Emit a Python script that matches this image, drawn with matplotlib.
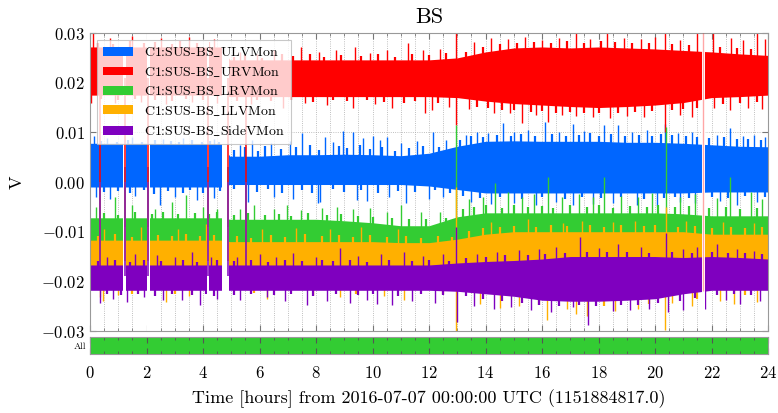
import matplotlib
matplotlib.use('Agg')
import matplotlib.pyplot as plt
from matplotlib.ticker import MultipleLocator, FuncFormatter

plt.rcParams['font.family'] = ['cmr10', 'DejaVu Serif']
plt.rcParams['mathtext.fontset'] = 'cm'
plt.rcParams['axes.formatter.use_mathtext'] = True

# time axis of the band envelopes (hours from start)
t_env = [0, 1, 2, 3, 4, 4.65, 4.95, 6, 7, 8, 9, 10, 11, 12, 13,
         14, 15, 16, 17, 18, 19, 20, 21, 22, 23, 24]

names = [r'C1:SUS-BS$\_$ULVMon', r'C1:SUS-BS$\_$URVMon', r'C1:SUS-BS$\_$LRVMon',
         r'C1:SUS-BS$\_$LLVMon', r'C1:SUS-BS$\_$SideVMon']
colors = ['#0066ff', '#ff0000', '#33cc33', '#ffb000', '#7f00bf']
centers = [0.003, 0.021, -0.009, -0.016, -0.019]

# dense band: upper / lower envelope of each channel
ulv_hi = [0.0078, 0.0078, 0.0078, 0.0077, 0.0077, 0.0077, 0.0052, 0.0052, 0.0055, 0.0055, 0.0056, 0.0055, 0.0053,
          0.0058, 0.0072, 0.0082, 0.0083, 0.0082, 0.0082, 0.0082, 0.0080, 0.0080, 0.0078, 0.0075, 0.0072, 0.0071]
ulv_lo = [-0.0010, -0.0010, -0.0010, -0.0010, -0.0010, -0.0010, -0.0005, -0.0005, -0.0005, -0.0005, -0.0005, -0.0005,
          -0.0005, -0.0008, -0.0015, -0.0022, -0.0022, -0.0022, -0.0022, -0.0022, -0.0022, -0.0022, -0.0022, -0.0020,
          -0.0020, -0.0020]
urv_hi = [0.0272, 0.0272, 0.0272, 0.0272, 0.0272, 0.0272, 0.0246, 0.0246, 0.0246, 0.0246, 0.0246, 0.0246, 0.0246,
          0.0246, 0.0250, 0.0262, 0.0270, 0.0272, 0.0270, 0.0272, 0.0270, 0.0268, 0.0265, 0.0262, 0.0258, 0.0255]
urv_lo = [0.0175, 0.0175, 0.0175, 0.0175, 0.0175, 0.0175, 0.0172, 0.0172, 0.0172, 0.0172, 0.0172, 0.0172, 0.0172,
          0.0172, 0.0170, 0.0163, 0.0158, 0.0155, 0.0152, 0.0150, 0.0152, 0.0155, 0.0160, 0.0170, 0.0172, 0.0175]
lrv_hi = [-0.0072, -0.0072, -0.0072, -0.0072, -0.0072, -0.0072, -0.0075, -0.0075, -0.0075, -0.0075, -0.0078, -0.0082,
          -0.0088, -0.0088, -0.0070, -0.0062, -0.0062, -0.0062, -0.0062, -0.0062, -0.0062, -0.0062, -0.0064, -0.0068,
          -0.0068, -0.0068]
lrv_lo = [-0.0130] * 26
llv_hi = [-0.0117, -0.0117, -0.0117, -0.0117, -0.0117, -0.0117, -0.0120, -0.0120, -0.0120, -0.0120, -0.0120, -0.0120,
          -0.0122, -0.0122, -0.0115, -0.0105, -0.0100, -0.0100, -0.0100, -0.0100, -0.0100, -0.0100, -0.0100, -0.0105,
          -0.0105, -0.0105]
llv_lo = [-0.0200] * 26
side_hi = [-0.0167, -0.0167, -0.0167, -0.0167, -0.0167, -0.0167, -0.0167, -0.0167, -0.0167, -0.0167, -0.0167, -0.0167,
           -0.0167, -0.0167, -0.0163, -0.0160, -0.0158, -0.0155, -0.0150, -0.0150, -0.0150, -0.0150, -0.0152, -0.0150,
           -0.0152, -0.0155]
side_lo = [-0.0218, -0.0218, -0.0218, -0.0218, -0.0218, -0.0218, -0.0218, -0.0218, -0.0218, -0.0218, -0.0218, -0.0218,
           -0.0218, -0.0218, -0.0220, -0.0225, -0.0230, -0.0238, -0.0240, -0.0240, -0.0238, -0.0235, -0.0225, -0.0218,
           -0.0218, -0.0218]

# large excursions beyond the dense band (hour, value)
ulv_spikes = [(0.15, 0.0092), (0.6, 0.0088), (1.5, 0.0090), (2.6, 0.0086), (3.3, 0.0089), (4.4, 0.0087),
              (5.3, 0.0075), (5.72, 0.0085), (6.4, 0.0078), (7.08, 0.0082), (7.49, 0.0098), (8.32, 0.0091),
              (8.6, 0.0080), (8.96, 0.0103), (9.3, 0.0101), (9.67, 0.0088), (10.0, 0.0093), (10.27, 0.0085),
              (10.5, 0.0090), (11.0, 0.0078), (11.56, 0.0083), (12.15, 0.0101), (12.6, 0.0085), (13.3, 0.0095),
              (13.69, 0.0101), (14.1, 0.0098), (14.63, 0.0118), (15.0, 0.0100), (15.5, 0.0105), (16.1, 0.0120),
              (16.6, 0.0100), (17.1, 0.0117), (17.5, 0.0102), (18.2, 0.0115), (18.7, 0.0114), (19.2, 0.0100),
              (19.7, 0.0104), (20.35, 0.0117), (20.8, 0.0098), (21.3, 0.0101), (22.2, 0.0095), (22.65, 0.0108),
              (23.1, 0.0093), (23.5, 0.0095), (23.9, 0.0090),
              (0.2, -0.0030), (0.7, -0.0035), (1.6, -0.0028), (2.48, -0.0046), (3.0, -0.0030), (3.78, -0.0036),
              (4.4, -0.0032), (5.6, -0.0040), (6.5, -0.0030), (7.2, -0.0035), (8.08, -0.0042), (8.14, -0.0040),
              (9.44, -0.0036), (9.8, -0.0038), (10.6, -0.0030), (11.2, -0.0042), (12.0, -0.0034), (12.5, -0.0030),
              (13.5, -0.0040), (14.2, -0.0045), (15.0, -0.0042), (15.8, -0.0046), (16.5, -0.0040), (17.1, -0.0046),
              (17.8, -0.0044), (18.5, -0.0042), (19.35, -0.0047), (20.06, -0.0048), (20.9, -0.0040), (21.4, -0.0043),
              (22.3, -0.0038), (22.9, -0.0046), (23.6, -0.0040)]
urv_spikes = [(0.1, 0.0300), (0.7, 0.0290), (1.5, 0.0295), (2.5, 0.0290), (3.5, 0.0292), (4.4, 0.0288),
              (5.3, 0.0262), (5.9, 0.0258), (6.5, 0.0265), (7.47, 0.0272), (8.1, 0.0262), (8.7, 0.0266),
              (9.38, 0.0272), (9.9, 0.0260), (10.5, 0.0266), (11.26, 0.0279), (11.8, 0.0265), (12.4, 0.0268),
              (12.95, 0.0300), (13.6, 0.0282), (14.2, 0.0290), (14.8, 0.0288), (15.4, 0.0292), (16.0, 0.0285),
              (16.6, 0.0290), (17.2, 0.0300), (17.7, 0.0288), (18.3, 0.0300), (18.9, 0.0290), (19.5, 0.0287),
              (20.0, 0.0292), (20.35, 0.0300), (20.9, 0.0286), (21.5, 0.0300), (22.06, 0.0300), (22.7, 0.0290),
              (23.1, 0.0285), (23.6, 0.0300), (23.9, 0.0288),
              (0.05, 0.0160), (0.9, 0.0160), (1.8, 0.0162), (2.7, 0.0158), (3.6, 0.0162), (4.5, 0.0160),
              (5.7, 0.0158), (6.84, 0.0149), (7.6, 0.0160), (8.4, 0.0155), (9.3, 0.0149), (10.1, 0.0158),
              (10.7, 0.0149), (11.86, 0.0139), (12.1, 0.0145), (12.7, 0.0152), (12.97, 0.0115), (13.4, 0.0148),
              (14.3, 0.0140), (14.87, 0.0139), (15.3, 0.0119), (15.8, 0.0135), (16.2, 0.0120), (16.7, 0.0135),
              (17.2, 0.0132), (17.8, 0.0130), (18.4, 0.0128), (19.0, 0.0133), (19.6, 0.0130), (20.35, 0.0100),
              (20.9, 0.0135), (21.3, 0.0130), (22.1, 0.0150), (22.65, 0.0145), (23.3, 0.0150), (23.8, 0.0148)]
lrv_spikes = [(0.2, -0.0050), (0.88, -0.0030), (1.47, -0.0046), (2.3, -0.0055), (2.9, -0.0040), (3.4, -0.0026),
              (4.0, -0.0050), (4.5, -0.0055), (5.3, -0.0055), (5.8, -0.0046), (6.5, -0.0055), (6.96, -0.0046),
              (7.47, -0.0057), (8.2, -0.0052), (8.73, -0.0050), (9.3, -0.0055), (9.9, -0.0052), (10.5, -0.0060),
              (11.0, -0.0046), (11.7, -0.0060), (12.4, -0.0060), (12.97, 0.0115), (13.4, -0.0035), (13.9, -0.0030),
              (14.34, -0.0002), (14.8, -0.0020), (15.3, -0.0030), (15.7, -0.0025), (16.2, 0.0010), (16.7, -0.0030),
              (17.3, -0.0025), (17.8, -0.0030), (18.2, 0.0010), (18.8, -0.0028), (19.4, -0.0030), (19.9, -0.0022),
              (20.38, 0.0110), (20.9, -0.0030), (21.4, -0.0025), (22.2, -0.0032), (22.65, 0.0010), (23.4, -0.0020),
              (23.8, -0.0035)]
llv_spikes = [(0.5, -0.0095), (1.8, -0.0090), (3.1, -0.0095), (4.1, -0.0085), (6.1, -0.0095), (7.3, -0.0092),
              (8.5, -0.0095), (9.6, -0.0090), (10.9, -0.0095), (12.97, -0.0010), (14.2, -0.0080), (15.5, -0.0075),
              (16.75, -0.0083), (17.4, -0.0078), (18.5, -0.0080), (19.3, -0.0078), (20.38, -0.0050), (21.1, -0.0078),
              (22.4, -0.0080), (23.5, -0.0082),
              (0.35, -0.0232), (0.45, -0.0240), (1.0, -0.0228), (2.7, -0.0241), (3.5, -0.0230), (6.25, -0.0235),
              (7.9, -0.0228), (8.85, -0.0232), (10.4, -0.0230), (11.1, -0.0238), (12.97, -0.0300), (13.8, -0.0245),
              (14.5, -0.0254), (15.2, -0.0250), (16.17, -0.0278), (16.9, -0.0255), (17.2, -0.0265), (17.6, -0.0270),
              (18.6, -0.0260), (19.4, -0.0255), (20.35, -0.0298), (20.6, -0.0244), (21.3, -0.0250), (22.3, -0.0240),
              (22.8, -0.0245), (23.6, -0.0242)]
side_spikes = [(0.6, -0.0150), (1.6, -0.0145), (2.36, -0.0147), (3.0, -0.0150), (3.6, -0.0140), (4.3, -0.0150),
               (5.2, -0.0150), (6.0, -0.0145), (6.6, -0.0150), (7.2, -0.0143), (8.0, -0.0150), (8.85, -0.0133),
               (9.5, -0.0148), (10.3, -0.0145), (11.1, -0.0140), (11.8, -0.0148), (12.5, -0.0145), (12.97, -0.0090),
               (13.7, -0.0145), (14.4, -0.0140), (15.2, -0.0137), (15.9, -0.0135), (16.5, -0.0130), (17.35, -0.0110),
               (18.0, -0.0132), (18.7, -0.0125), (19.5, -0.0130), (20.4, -0.0103), (21.0, -0.0135), (21.5, -0.0130),
               (22.2, -0.0125), (22.9, -0.0135), (23.5, -0.0138),
               (0.35, -0.0243), (0.8, -0.0235), (1.3, -0.0242), (1.9, -0.0232), (2.6, -0.0238), (3.24, -0.0238),
               (3.9, -0.0248), (4.5, -0.0235), (5.3, -0.0238), (6.25, -0.0232), (6.9, -0.0240), (7.67, -0.0248),
               (8.4, -0.0240), (9.2, -0.0244), (9.8, -0.0238), (10.15, -0.0245), (10.68, -0.0248), (11.4, -0.0240),
               (12.2, -0.0243), (12.98, -0.0281), (13.6, -0.0250), (14.3, -0.0255), (14.9, -0.0252), (15.6, -0.0258),
               (16.3, -0.0262), (17.1, -0.0251), (17.63, -0.0288), (18.5, -0.0260), (19.1, -0.0258), (19.8, -0.0255),
               (20.45, -0.0262), (21.0, -0.0258), (21.78, -0.0255), (22.5, -0.0238), (23.0, -0.0245), (23.7, -0.0240)]

# small excursions that roughen the band edges (hour, value)
ulv_fuzz = [(0.4, 0.0083), (0.95, 0.0081), (1.35, 0.0084), (1.85, 0.0080), (2.3, 0.0085), (2.85, 0.0082),
            (3.15, 0.0080), (3.6, 0.0084), (3.95, 0.0081), (4.25, 0.0083), (4.55, 0.0080), (5.1, 0.0065),
            (5.5, 0.0070), (5.95, 0.0062), (6.2, 0.0072), (6.75, 0.0066), (7.3, 0.0070), (7.8, 0.0074),
            (8.1, 0.0064), (8.8, 0.0072), (9.1, 0.0068), (9.55, 0.0075), (9.9, 0.0066), (10.35, 0.0070),
            (10.8, 0.0062), (11.3, 0.0068), (11.8, 0.0072), (12.35, 0.0070), (12.8, 0.0066), (13.1, 0.0085),
            (13.5, 0.0092), (13.9, 0.0090), (14.4, 0.0095), (14.9, 0.0092), (15.25, 0.0096), (15.75, 0.0093),
            (16.35, 0.0097), (16.85, 0.0092), (17.3, 0.0095), (17.7, 0.0098), (18.0, 0.0092), (18.45, 0.0096),
            (18.95, 0.0093), (19.45, 0.0095), (19.9, 0.0092), (20.2, 0.0097), (20.6, 0.0094), (21.1, 0.0092),
            (21.5, 0.0090), (21.9, 0.0088), (22.45, 0.0090), (22.9, 0.0087), (23.3, 0.0086), (23.75, 0.0085),
            (0.5, -0.0020), (1.0, -0.0018), (1.4, -0.0022), (1.9, -0.0016), (2.25, -0.0024), (2.75, -0.0019),
            (3.3, -0.0022), (3.55, -0.0017), (4.0, -0.0023), (4.6, -0.0018), (5.1, -0.0015), (5.9, -0.0020),
            (6.3, -0.0014), (6.8, -0.0022), (7.5, -0.0017), (7.85, -0.0023), (8.6, -0.0015), (9.0, -0.0021),
            (9.6, -0.0016), (10.2, -0.0022), (10.9, -0.0018), (11.5, -0.0020), (12.2, -0.0016), (12.75, -0.0022),
            (13.2, -0.0028), (13.8, -0.0032), (14.5, -0.0030), (15.3, -0.0034), (16.0, -0.0031), (16.8, -0.0035),
            (17.4, -0.0030), (18.1, -0.0033), (18.8, -0.0031), (19.6, -0.0035), (20.3, -0.0032), (20.7, -0.0030),
            (21.2, -0.0033), (22.0, -0.0030), (22.6, -0.0032), (23.2, -0.0029), (23.9, -0.0031)]
urv_fuzz = [(0.3, 0.0280), (0.8, 0.0278), (1.4, 0.0283), (1.9, 0.0279), (2.3, 0.0282), (2.9, 0.0278),
            (3.2, 0.0284), (3.8, 0.0280), (4.2, 0.0282), (5.1, 0.0252), (5.5, 0.0256), (6.1, 0.0250),
            (6.8, 0.0257), (7.2, 0.0253), (7.8, 0.0258), (8.3, 0.0252), (8.9, 0.0256), (9.6, 0.0254),
            (10.2, 0.0258), (10.8, 0.0252), (11.4, 0.0257), (12.0, 0.0255), (12.6, 0.0259), (13.3, 0.0262),
            (13.9, 0.0272), (14.5, 0.0278), (15.1, 0.0280), (15.7, 0.0282), (16.3, 0.0279), (16.9, 0.0283),
            (17.5, 0.0280), (18.1, 0.0284), (18.6, 0.0281), (19.2, 0.0280), (19.8, 0.0279), (20.6, 0.0277),
            (21.2, 0.0275), (22.3, 0.0272), (22.9, 0.0270), (23.4, 0.0268),
            (0.4, 0.0167), (1.0, 0.0165), (1.6, 0.0168), (2.3, 0.0166), (2.9, 0.0164), (3.4, 0.0167),
            (4.0, 0.0165), (5.2, 0.0164), (5.9, 0.0166), (6.4, 0.0163), (7.1, 0.0165), (7.9, 0.0162),
            (8.6, 0.0165), (9.1, 0.0163), (9.8, 0.0165), (10.4, 0.0162), (11.1, 0.0160), (11.5, 0.0163),
            (12.3, 0.0160), (13.7, 0.0152), (14.1, 0.0150), (14.6, 0.0146), (15.0, 0.0145), (15.6, 0.0142),
            (16.0, 0.0143), (16.5, 0.0140), (17.0, 0.0142), (17.5, 0.0139), (18.0, 0.0140), (18.7, 0.0138),
            (19.3, 0.0141), (19.9, 0.0143), (20.6, 0.0145), (21.0, 0.0148), (21.5, 0.0150), (22.4, 0.0158),
            (23.0, 0.0160), (23.6, 0.0162)]
lrv_fuzz = [(0.5, -0.0063), (1.0, -0.0066), (1.6, -0.0060), (2.2, -0.0064), (2.6, -0.0061), (3.1, -0.0065),
            (3.7, -0.0062), (4.2, -0.0064), (4.5, -0.0060), (5.1, -0.0066), (5.6, -0.0063), (6.2, -0.0067),
            (6.7, -0.0064), (7.1, -0.0068), (7.7, -0.0062), (8.4, -0.0066), (8.9, -0.0064), (9.5, -0.0068),
            (10.0, -0.0070), (10.7, -0.0072), (11.3, -0.0075), (11.9, -0.0074), (12.6, -0.0072), (13.2, -0.0055),
            (13.6, -0.0050), (14.0, -0.0047), (14.6, -0.0052), (15.0, -0.0046), (15.5, -0.0050), (16.0, -0.0048),
            (16.4, -0.0053), (17.0, -0.0046), (17.6, -0.0050), (18.0, -0.0047), (18.5, -0.0052), (19.1, -0.0048),
            (19.7, -0.0051), (20.1, -0.0046), (20.7, -0.0050), (21.2, -0.0048), (21.9, -0.0053), (22.5, -0.0050),
            (23.0, -0.0055), (23.6, -0.0052)]
llv_fuzz = [(0.3, -0.0108), (0.9, -0.0105), (1.5, -0.0110), (2.4, -0.0106), (2.9, -0.0109), (3.4, -0.0104),
            (3.9, -0.0108), (4.4, -0.0106), (5.2, -0.0108), (5.7, -0.0112), (6.4, -0.0106), (6.9, -0.0110),
            (7.6, -0.0105), (8.2, -0.0109), (8.8, -0.0107), (9.3, -0.0111), (9.9, -0.0106), (10.5, -0.0110),
            (11.2, -0.0108), (11.7, -0.0112), (12.3, -0.0109), (12.8, -0.0111), (13.4, -0.0098), (13.9, -0.0092),
            (14.5, -0.0090), (15.0, -0.0088), (15.8, -0.0090), (16.3, -0.0086), (16.9, -0.0089), (17.7, -0.0087),
            (18.2, -0.0090), (18.8, -0.0086), (19.6, -0.0089), (20.0, -0.0087), (20.8, -0.0090), (21.4, -0.0088),
            (22.0, -0.0092), (22.7, -0.0090), (23.2, -0.0093), (23.8, -0.0091),
            (1.5, -0.0225), (3.0, -0.0226), (5.8, -0.0224), (9.4, -0.0226), (12.5, -0.0225), (15.9, -0.0248),
            (18.2, -0.0250), (19.8, -0.0246), (21.5, -0.0235), (23.2, -0.0228)]
side_fuzz = [(0.3, -0.0160), (0.9, -0.0157), (1.4, -0.0161), (1.9, -0.0158), (2.5, -0.0160), (3.3, -0.0157),
             (3.8, -0.0161), (4.5, -0.0158), (5.1, -0.0160), (5.7, -0.0157), (6.3, -0.0161), (6.9, -0.0158),
             (7.5, -0.0160), (8.2, -0.0157), (8.6, -0.0160), (9.2, -0.0158), (9.8, -0.0161), (10.6, -0.0157),
             (11.4, -0.0160), (12.0, -0.0157), (12.7, -0.0159), (13.3, -0.0152), (14.0, -0.0150), (14.7, -0.0147),
             (15.5, -0.0146), (16.1, -0.0144), (16.8, -0.0142), (17.6, -0.0140), (18.3, -0.0141), (19.0, -0.0140),
             (19.8, -0.0142), (20.6, -0.0141), (21.3, -0.0143), (22.0, -0.0140), (22.6, -0.0142), (23.2, -0.0143),
             (23.8, -0.0145),
             (0.6, -0.0226), (1.1, -0.0228), (1.7, -0.0225), (2.3, -0.0229), (2.9, -0.0226), (3.6, -0.0228),
             (4.1, -0.0225), (4.4, -0.0229), (5.1, -0.0227), (5.7, -0.0225), (6.5, -0.0228), (7.1, -0.0226),
             (7.9, -0.0229), (8.7, -0.0226), (9.5, -0.0228), (10.0, -0.0225), (10.9, -0.0229), (11.7, -0.0226),
             (12.5, -0.0228), (13.3, -0.0230), (13.9, -0.0236), (14.6, -0.0240), (15.3, -0.0244), (15.9, -0.0247),
             (16.6, -0.0249), (17.3, -0.0248), (17.9, -0.0250), (18.8, -0.0248), (19.4, -0.0247), (20.1, -0.0244),
             (20.9, -0.0240), (21.4, -0.0234), (22.2, -0.0228), (22.8, -0.0226), (23.4, -0.0228)]

# data gaps and moments where every channel dropped to zero
gaps = [(1.17, 1.29), (2.0, 2.12), (4.15, 4.21), (4.66, 4.92), (21.66, 21.77)]
glitch_times = [0.35, 1.24, 2.06, 4.19, 4.88, 5.51]
urv_dropout = (21.71, -0.022, 0.03)

# state segments
seg_label = 'All'
seg_starts = [0]
seg_widths = [24]

highs = [ulv_hi, urv_hi, lrv_hi, llv_hi, side_hi]
lows = [ulv_lo, urv_lo, lrv_lo, llv_lo, side_lo]
spikes = [ulv_spikes, urv_spikes, lrv_spikes, llv_spikes, side_spikes]
fuzz = [ulv_fuzz, urv_fuzz, lrv_fuzz, llv_fuzz, side_fuzz]

fig = plt.figure(figsize=(7.78, 4.13), dpi=100)
ax = fig.add_axes([0.1157, 0.1985, 0.8715, 0.7215])
ax2 = fig.add_axes([0.1157, 0.1429, 0.8715, 0.0412])

for i in range(5):
    ax.fill_between(t_env, lows[i], highs[i], color=colors[i], lw=0, zorder=2, label=names[i])
    ts = [s[0] for s in spikes[i]]
    vs = [s[1] for s in spikes[i]]
    ax.vlines(ts, centers[i], vs, color=colors[i], lw=1.0, zorder=2)
    ts = [s[0] for s in fuzz[i]]
    vs = [s[1] for s in fuzz[i]]
    ax.vlines(ts, centers[i], vs, color=colors[i], lw=1.6, zorder=2)

for a, b in gaps:
    ax.axvspan(a, b, color='white', lw=0, zorder=2.5)

for i in range(5):
    ax.vlines(glitch_times, centers[i], 0.0, color=colors[i], lw=1.1, zorder=2.6)
ax.vlines(urv_dropout[0], urv_dropout[1], urv_dropout[2], color=colors[1], lw=1.0, alpha=0.35, zorder=2.6)

ax.set_xlim(0, 24)
ax.set_ylim(-0.03, 0.03)
ax.xaxis.set_major_locator(MultipleLocator(2))
ax.xaxis.set_minor_locator(MultipleLocator(0.5))
ax.yaxis.set_major_locator(MultipleLocator(0.01))
ax.yaxis.set_major_formatter(FuncFormatter(lambda v, p: r'$%.2f$' % (round(v, 4) + 0.0)))
ax.tick_params(which='both', direction='in', top=True, right=True, labelbottom=False,
               color='#777777', labelsize=12)
ax.tick_params(which='major', length=4)
ax.tick_params(which='minor', length=2)
ax.grid(which='major', ls=':', lw=0.6, color='#aaaaaa')
ax.grid(which='minor', axis='x', ls=':', lw=0.6, color='#aaaaaa')
ax.set_ylabel('V', fontsize=13, labelpad=12)
ax.set_title('BS', fontsize=16, pad=7)
for s in ax.spines.values():
    s.set_color('#999999')

leg = ax.legend(loc='upper left', fontsize=10, handlelength=2.2, handleheight=0.6, framealpha=0.8,
                fancybox=False, edgecolor='#bbbbbb', borderaxespad=0.5, labelspacing=0.4)
leg.get_frame().set_linewidth(0.8)

ax2.broken_barh(list(zip(seg_starts, seg_widths)), (0, 1), facecolor='#33cc33', edgecolor='none')
ax2.set_xlim(0, 24)
ax2.set_ylim(0, 1)
ax2.set_yticks([0.5])
ax2.set_yticklabels([seg_label], fontsize=7)
ax2.xaxis.set_major_locator(MultipleLocator(2))
ax2.xaxis.set_minor_locator(MultipleLocator(0.5))
ax2.tick_params(axis='x', which='both', direction='in', top=True, color='#555555', labelsize=12, pad=8)
ax2.tick_params(axis='x', which='major', length=4)
ax2.tick_params(axis='x', which='minor', length=2)
ax2.tick_params(axis='y', length=0, pad=3)
for s in ax2.spines.values():
    s.set_color('#999999')
ax2.set_xlabel('Time [hours] from 2016-07-07 00:00:00 UTC (1151884817.0)', fontsize=13, labelpad=6)

fig.savefig('out.png', dpi=100)
